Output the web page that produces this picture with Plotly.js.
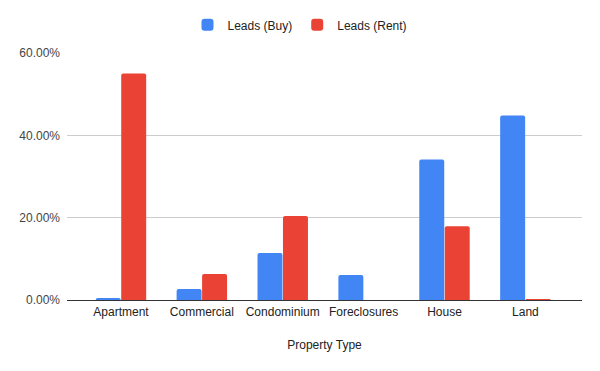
<!DOCTYPE html>
<html>
<head>
<meta charset="utf-8">
<script src="https://cdn.plot.ly/plotly-3.0.1.min.js"></script>
<style>html,body{margin:0;padding:0;background:#fff;}#chart{width:600px;height:371px;}</style>
</head>
<body>
<div id="chart"></div>
<script>
const categories = ["Apartment", "Commercial", "Condominium", "Foreclosures", "House", "Land"];
const leadsBuy = [0.005, 0.027, 0.114, 0.061, 0.341, 0.448];
const leadsRent = [0.550, 0.063, 0.204, 0.0, 0.179, 0.0025];
const yTicks = [0, 0.2, 0.4, 0.6];

const traces = [
  {type: "bar", name: "Leads (Buy)", x: categories, y: leadsBuy,
   marker: {color: "#4285F4", cornerradius: 2}, hoverinfo: "x+y"},
  {type: "bar", name: "Leads (Rent)", x: categories, y: leadsRent,
   marker: {color: "#EA4335", cornerradius: 2}, hoverinfo: "x+y"}
];

const layout = {
  width: 600, height: 371,
  margin: {l: 67, r: 18, t: 53, b: 71},
  paper_bgcolor: "#fff", plot_bgcolor: "#fff",
  font: {family: "Liberation Sans, Arial, sans-serif", size: 12, color: "#222"},
  barmode: "group", bargap: 0.37, bargroupgap: 0.02,
  showlegend: true,
  legend: {orientation: "h", xref: "container", yref: "container",
           x: 0.5, xanchor: "center", y: 0.933, yanchor: "middle",
           font: {size: 12, color: "#222"}, itemclick: false},
  xaxis: {
    range: [-0.667, 5.70],
    title: {text: "Property Type", font: {size: 12, color: "#222"}, standoff: 22},
    tickfont: {size: 12, color: "#222"},
    showgrid: false, showline: false, ticks: "", ticklabelstandoff: 3
  },
  yaxis: {
    range: [0, 0.6], tickvals: yTicks, tickformat: ".2%",
    tickfont: {size: 12, color: "#444"},
    showgrid: true, gridcolor: "#cccccc", gridwidth: 1,
    zeroline: true, zerolinecolor: "#333", zerolinewidth: 1,
    ticks: "", ticklabelstandoff: 6, fixedrange: true
  }
};

Plotly.newPlot("chart", traces, layout, {displayModeBar: false, staticPlot: true});
</script>
</body>
</html>
